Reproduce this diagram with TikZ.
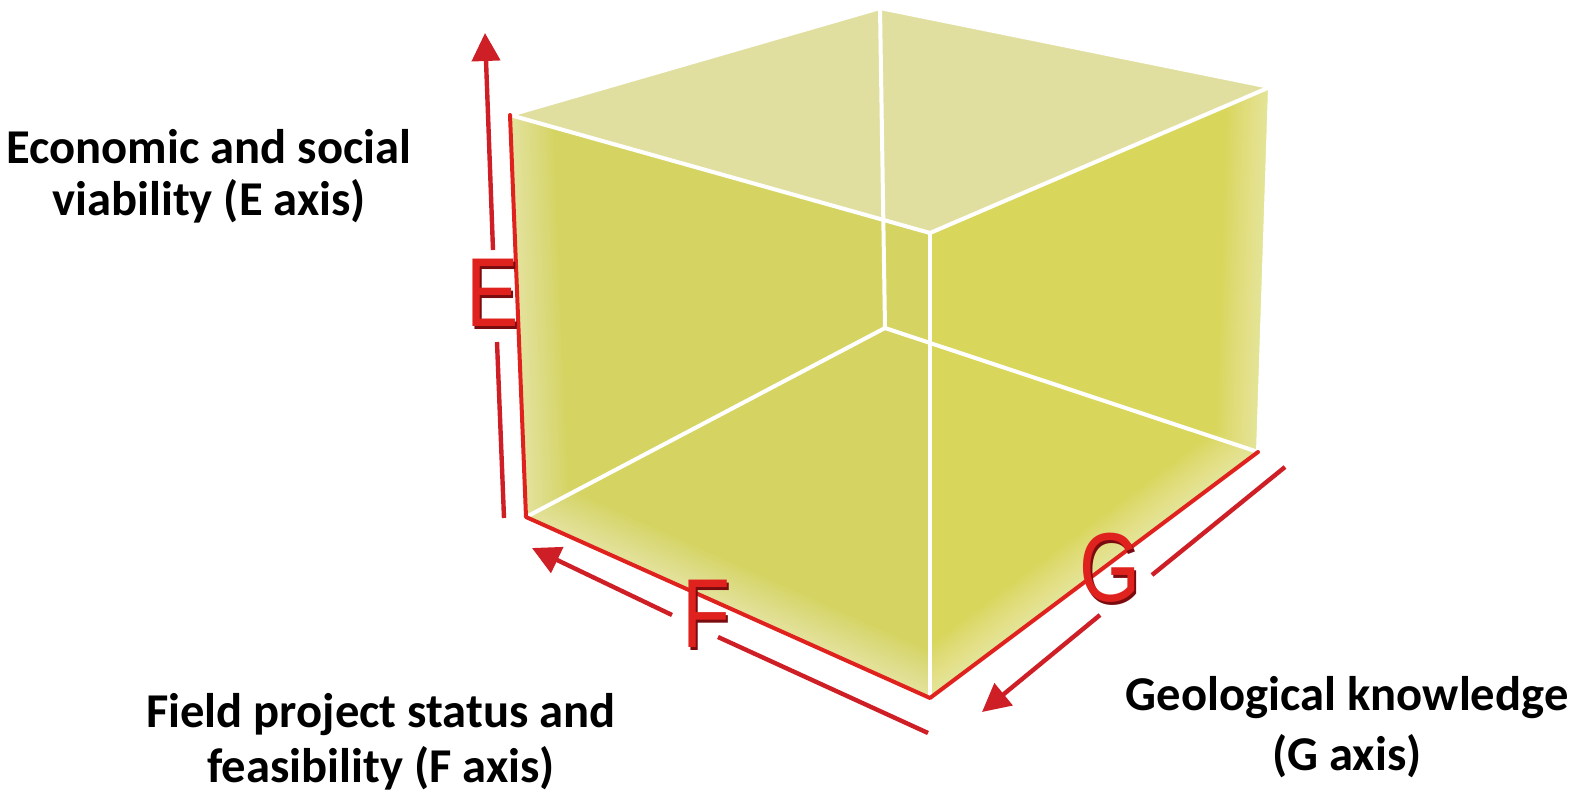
\documentclass[tikz,border=0pt]{standalone}
\usepackage{fontspec}
\setmainfont{Carlito}
\newfontfamily\axisfont{Liberation Sans}
\usetikzlibrary{arrows.meta}
\definecolor{cubetop}{HTML}{E1DFA0}
\definecolor{cubeleft}{HTML}{D5D462}
\definecolor{cuberight}{HTML}{D9D65C}
\definecolor{axisred}{HTML}{CF1F26}
\definecolor{edgered}{HTML}{E0221E}
\definecolor{lettershade}{HTML}{7A0C10}
\newcommand{\axischar}[1]{\scalebox{0.8}[1]{#1}}
\tikzset{
  cubeedge/.style={white,line width=2pt,line cap=round,line join=round},
  rimline/.style={black!70,line width=0.6pt},
  rededge/.style={edgered,line width=2pt,line cap=round,line join=round},
  axisline/.style={axisred,line width=2.2pt},
  axisarrow/.style={axisline,-{Triangle[length=14pt,width=14pt]}},
  axisletter/.style={font=\axisfont\fontsize{49}{49}\selectfont,text=edgered,inner sep=0pt},
  lettershadow/.style={axisletter,text=lettershade},
  axislabel/.style={font=\bfseries\fontsize{24.3}{26}\selectfont,align=center,inner sep=0pt,anchor=base}
}
\begin{document}
\begin{tikzpicture}[x=0.5pt,y=-0.5pt]
\useasboundingbox (0,0) rectangle (1577,792);

% Ecken des Wuerfels
\coordinate (tl) at (510,115);
\coordinate (tb) at (880,8);
\coordinate (tr) at (1270,87);
\coordinate (tf) at (930,233);
\coordinate (bl) at (526,517);
\coordinate (bb) at (885,328);
\coordinate (br) at (1258,452);
\coordinate (bf) at (930,698);

% Flaechen
\fill[cubetop] (tl) -- (tb) -- (tr) -- (tf) -- cycle;
\fill[cubeleft] (tl) -- (tf) -- (bf) -- (bl) -- cycle;
\fill[cuberight] (tf) -- (tr) -- (br) -- (bf) -- cycle;

% helle Raender innen
\begin{scope}
  \clip (tl) -- (tf) -- (bf) -- (bl) -- cycle;
  \foreach \w in {3,6,...,42}
    \draw[white,opacity=0.035,line width=\w] (tl) -- (bl) -- (bf);
\end{scope}
\begin{scope}
  \clip (tf) -- (tr) -- (br) -- (bf) -- cycle;
  \foreach \w in {3,6,...,42}
    \draw[white,opacity=0.035,line width=\w] (tr) -- (br) -- (bf);
\end{scope}

% dunkle Aussenkante oben und rechts
\draw[rimline,shift={(0,-1.8)}] (tl) -- (tb) -- (tr);
\draw[rimline,shift={(1.8,0)}] (tr) -- (br);

% weisse Kanten
\draw[cubeedge] (tl) -- (tb) -- (tr) -- (br);
\draw[cubeedge] (tl) -- (tf) -- (tr);
\draw[cubeedge] (tf) -- (bf);
\draw[cubeedge] (bl) -- (bb) -- (br);
\draw[cubeedge] (tb) -- (bb);

% rote Kanten
\draw[rededge] (tl) -- (bl) -- (bf) -- (br);

% Achsen mit Buchstaben
\coordinate (E0) at (504,518);
\coordinate (E1) at (497,342);
\coordinate (E2) at (493,250);
\coordinate (E3) at (485,33);
\coordinate (F0) at (928,733);
\coordinate (F1) at (718,637);
\coordinate (F2) at (672,615);
\coordinate (F3) at (532,548);
\coordinate (G0) at (1285,467);
\coordinate (G1) at (1152,575);
\coordinate (G2) at (1100,615);
\coordinate (G3) at (982,712);

\draw[axisline] (E0) -- (E1);
\draw[axisarrow] (E2) -- (E3);
\draw[axisline] (F0) -- (F1);
\draw[axisarrow] (F2) -- (F3);
\draw[axisline] (G0) -- (G1);
\draw[axisarrow] (G2) -- (G3);

\node[lettershadow] (Eshadow) at (495,296) {\axischar{E}};
\node[axisletter] (Eletter) at (493,293) {\axischar{E}};
\node[lettershadow] (Fshadow) at (708,617) {\axischar{F}};
\node[axisletter] (Fletter) at (706,614) {\axischar{F}};
\node[lettershadow] (Gshadow) at (1112,571) {\axischar{G}};
\node[axisletter] (Gletter) at (1110,568) {\axischar{G}};

% Beschriftungen (Anker = Grundlinie der letzten Zeile)
\node[axislabel] (Elabel) at (209,215) {Economic and social\\viability (E axis)};
\node[axislabel, font=\bfseries\fontsize{24.3}{27.5}\selectfont] (Flabel) at (381,782)
  {Field project status and\\feasibility (F axis)};
\node[axislabel, font=\bfseries\fontsize{24.3}{30}\selectfont] (Glabel) at (1347,770)
  {Geological knowledge\\(G axis)};

\end{tikzpicture}
\end{document}
